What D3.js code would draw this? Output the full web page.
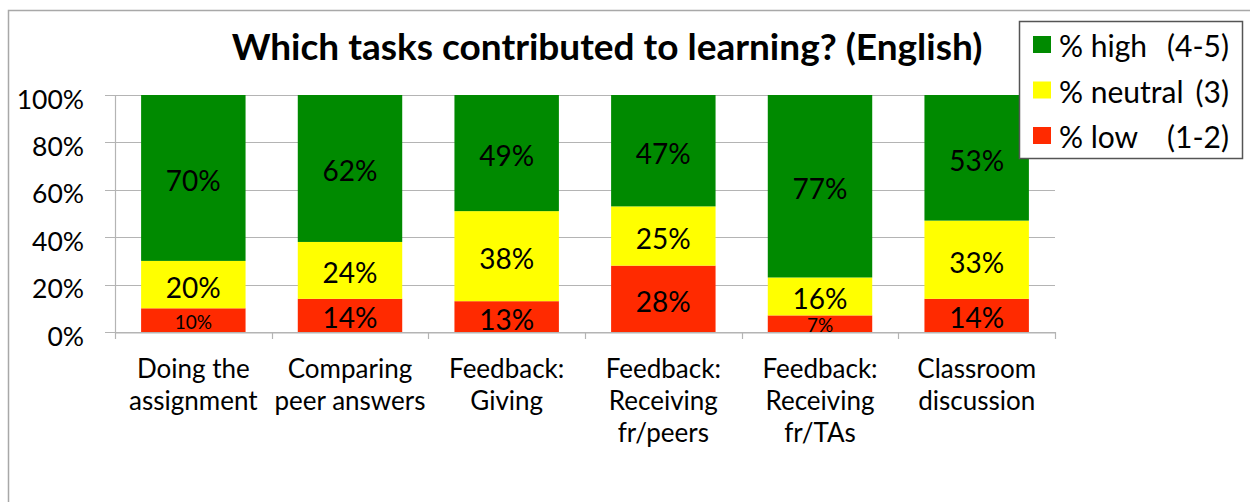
<!DOCTYPE html>
<html>
<head>
<meta charset="utf-8">
<script src="https://cdn.jsdelivr.net/npm/d3@7"></script>
<style>
  html, body { margin: 0; padding: 0; background: #fff; }
  svg { display: block; font-family: Lato, "Open Sans", sans-serif; }
</style>
</head>
<body>
<svg id="chart" width="1250" height="502"></svg>
<script>
const categories = [
  ["Doing the", "assignment"],
  ["Comparing", "peer answers"],
  ["Feedback:", "Giving"],
  ["Feedback:", "Receiving", "fr/peers"],
  ["Feedback:", "Receiving", "fr/TAs"],
  ["Classroom", "discussion"]
];
const lowValues = [10, 14, 13, 28, 7, 14];
const neutralValues = [20, 24, 38, 25, 16, 33];
const highValues = [70, 62, 49, 47, 77, 53];
const seriesNames = ["% low", "% neutral", "% high"];
const legendLabels = [["% high", "(4-5)"], ["% neutral", "(3)"], ["% low", "(1-2)"]];
const yTicks = [0, 20, 40, 60, 80, 100];
const colors = { "% low": "#ff2a00", "% neutral": "#ffff00", "% high": "#008a00" };
const title = "Which tasks contributed to learning? (English)";

const svg = d3.select("#chart");
const x0 = 115, x1 = 1055, yTop = 95, yBot = 332;

// outer frame
svg.append("rect").attr("x", 8.5).attr("y", 10.5).attr("width", 1300).attr("height", 600)
  .attr("fill", "#fff").attr("stroke", "#a8a8a8").attr("stroke-width", 1.5);

const rows = categories.map((c, i) => ({
  key: i, label: c,
  "% low": lowValues[i], "% neutral": neutralValues[i], "% high": highValues[i]
}));

const x = d3.scaleBand().domain(rows.map(d => d.key)).range([x0, x1]).paddingInner(0).paddingOuter(0);
const y = d3.scaleLinear().domain([0, 100]).range([yBot, yTop]);
const barW = x.bandwidth() / 1.5;

// gridlines
svg.append("g").selectAll("line").data(yTicks).join("line")
  .attr("x1", x0 - 10).attr("x2", x1)
  .attr("y1", d => Math.round(y(d)) + 0.5).attr("y2", d => Math.round(y(d)) + 0.5)
  .attr("stroke", "#b4b4b4").attr("stroke-width", 1.2);

// y axis line
svg.append("line").attr("x1", x0 + 0.5).attr("x2", x0 + 0.5).attr("y1", yTop).attr("y2", yBot)
  .attr("stroke", "#b4b4b4").attr("stroke-width", 1.2);

// y tick labels
svg.append("g").selectAll("text").data(yTicks).join("text")
  .attr("x", 84).attr("y", d => y(d) + 13.5)
  .attr("text-anchor", "end").attr("font-size", 26.5).attr("fill", "#000")
  .text(d => d + "%");

// stacked bars
const stack = d3.stack().keys(seriesNames);
const stacked = stack(rows);
const layers = svg.append("g").selectAll("g").data(stacked).join("g")
  .attr("fill", d => colors[d.key]);
layers.selectAll("rect").data(d => d).join("rect")
  .attr("x", d => x(d.data.key) + (x.bandwidth() - barW) / 2)
  .attr("width", barW)
  .attr("y", d => y(d[1]))
  .attr("height", d => y(d[0]) - y(d[1]));

// data labels
layers.selectAll("text").data(d => d.map(v => Object.assign({ v: v.data[d.key] }, v))).join("text")
  .attr("x", d => x(d.data.key) + x.bandwidth() / 2)
  .attr("y", d => (y(d[0]) + y(d[1])) / 2 + (d.v <= 10 ? 8.5 : 13))
  .attr("text-anchor", "middle")
  .attr("font-size", d => d.v <= 10 ? 19 : 28)
  .attr("fill", "#000")
  .text(d => d.v + "%");

// x axis line and ticks
const xAxis = d3.axisBottom(x).tickSize(0).tickFormat("");
svg.append("g").attr("transform", `translate(0,${yBot + 0.5})`).call(xAxis)
  .call(g => g.select(".domain").attr("stroke", "#b4b4b4").attr("stroke-width", 1.2));
const bounds = d3.range(categories.length + 1).map(i => x0 + i * x.step());
svg.append("g").selectAll("line").data(bounds).join("line")
  .attr("x1", d => Math.round(d) + 0.5).attr("x2", d => Math.round(d) + 0.5)
  .attr("y1", yBot).attr("y2", yBot + 7)
  .attr("stroke", "#b4b4b4").attr("stroke-width", 1.2);

// x labels
const xl = svg.append("g").selectAll("text").data(rows).join("text")
  .attr("x", d => x(d.key) + x.bandwidth() / 2)
  .attr("y", 378)
  .attr("text-anchor", "middle").attr("font-size", 26).attr("fill", "#000");
xl.selectAll("tspan").data(d => d.label.map((t, i) => ({ t, i, cx: x(d.key) + x.bandwidth() / 2 }))).join("tspan")
  .attr("x", d => d.cx).attr("dy", d => d.i === 0 ? 0 : 32).text(d => d.t);

// title
svg.append("text").attr("x", 607).attr("y", 60).attr("text-anchor", "middle")
  .attr("font-size", 37).attr("font-weight", "bold").attr("fill", "#000").text(title);

// legend
const lg = svg.append("g");
lg.append("rect").attr("x", 1019.5).attr("y", 21.5).attr("width", 223).attr("height", 137)
  .attr("fill", "#fff").attr("stroke", "#555").attr("stroke-width", 1.5);
const legendKeys = ["% high", "% neutral", "% low"];
const li = lg.selectAll("g").data(legendKeys).join("g")
  .attr("transform", (d, i) => `translate(1033,${36 + i * 45.5})`);
li.append("rect").attr("width", 18).attr("height", 17).attr("fill", d => colors[d]);
li.append("text").attr("x", 26).attr("y", 21).attr("font-size", 30)
  .text((d, i) => legendLabels[i][0]);
li.append("text").attr("x", 1229 - 1033).attr("y", 21).attr("font-size", 30)
  .attr("text-anchor", "end").text((d, i) => legendLabels[i][1]);
</script>
</body>
</html>
